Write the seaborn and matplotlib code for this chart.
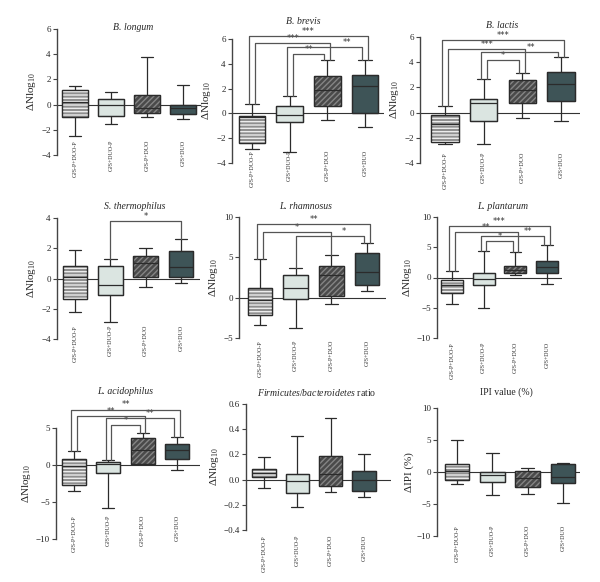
import numpy as np
import pandas as pd
import matplotlib
matplotlib.use("Agg")
import matplotlib.pyplot as plt
import seaborn as sns
from matplotlib.patches import PathPatch

# ---------------- data ----------------
groups = ["GJS-P+DUO-P", "GJS+DUO-P", "GJS-P+DUO", "GJS+DUO"]
titles = ["B. longum", "B. brevis", "B. lactis",
          "S. thermophilus", "L. rhamnosus", "L. plantarum",
          "L. acidophilus", "Firmicutes/bacteroidetes ratio", "IPI value (%)"]
ylabels = ["ΔNlog$_{\\mathregular{10}}$"] * 8 + ["ΔIPI (%)"]

# five-number summaries per group: [min, q1, median, q3, max]
longum = [[-2.46, -0.98, 0.2, 1.19, 1.45], [-1.56, -0.87, -0.05, 0.42, 1.0],
          [-0.98, -0.63, -0.3, 0.8, 3.78], [-1.16, -0.77, -0.3, -0.05, 1.53]]
brevis = [[-2.9, -2.39, -0.3, -0.19, 0.75], [-3.08, -0.72, -0.1, 0.56, 1.37],
          [-0.56, 0.62, 1.9, 3.03, 4.29], [-1.1, 0.0, 2.23, 3.11, 4.34]]
lactis = [[-2.51, -2.33, -0.9, -0.19, 0.55], [-2.51, -0.69, 0.77, 1.06, 2.67],
          [-0.42, 0.74, 1.8, 2.62, 3.15], [-0.69, 0.9, 2.28, 3.2, 4.42]]
thermo = [[-2.19, -1.35, 0.07, 0.8, 1.9], [-2.87, -1.06, -0.44, 0.8, 1.26],
          [-0.55, 0.13, 1.02, 1.5, 1.99], [-0.27, 0.09, 0.77, 1.83, 2.63]]
rhamno = [[-3.39, -2.15, -0.3, 1.16, 4.8], [-3.76, -0.2, 1.16, 2.85, 3.72],
          [-0.79, 0.17, 2.81, 3.88, 5.33], [0.79, 1.57, 3.22, 5.54, 6.78]]
planta = [[-4.35, -2.63, -1.25, -0.42, 1.02], [-5.12, -1.3, -0.3, 0.69, 4.35],
          [0.47, 0.69, 1.25, 1.91, 4.18], [-1.08, 0.69, 1.8, 2.8, 5.29]]
acidop = [[-3.49, -2.68, -0.1, 0.85, 1.84], [-5.84, -1.1, 0.12, 0.44, 0.66],
          [0.1, 0.12, 2.0, 3.65, 4.28], [-0.74, 0.85, 1.97, 2.83, 3.78]]
firmic = [[-0.066, 0.022, 0.05, 0.083, 0.18], [-0.217, -0.108, -0.008, 0.043, 0.35],
          [-0.1, -0.05, 0.043, 0.19, 0.49], [-0.135, -0.088, 0.0, 0.067, 0.2]]
ipi = [[-1.93, -1.2, 0.1, 1.2, 5.0], [-3.65, -1.5, -0.42, 0.0, 2.97],
       [-3.49, -2.34, -1.0, 0.16, 0.68], [-4.9, -1.72, -0.8, 1.25, 1.4]]
panels = [longum, brevis, lactis, thermo, rhamno, planta, acidop, firmic, ipi]

yticks = [[-4, -2, 0, 2, 4, 6]] * 3 + [[-4, -2, 0, 2, 4], [-5, 0, 5, 10],
          [-10, -5, 0, 5, 10], [-10, -5, 0, 5], [-0.4, -0.2, 0.0, 0.2, 0.4, 0.6],
          [-10, -5, 0, 5, 10]]

# significance brackets: (group i, group j, level, label, label x or None)
sig = [
    [],
    [(0, 3, 6.25, "***", None), (0, 2, 5.7, "***", None), (1, 3, 5.36, "**", 2.52), (1, 2, 4.77, "**", None)],
    [(0, 3, 5.76, "***", None), (0, 2, 5.08, "***", None), (1, 3, 4.79, "**", 2.22), (1, 2, 4.15, "*", None)],
    [(1, 3, 3.78, "*", None)],
    [(0, 3, 9.13, "**", None), (0, 2, 8.1, "*", None), (1, 3, 7.6, "*", 2.35)],
    [(0, 3, 8.5, "***", None), (0, 2, 7.5, "**", None), (1, 3, 6.9, "**", 2.4), (1, 2, 5.96, "*", None)],
    [(0, 3, 7.5, "**", None), (0, 2, 6.6, "**", None), (1, 3, 6.3, "**", 2.21), (1, 2, 5.34, "*", None)],
    [],
    [],
]

# ---------------- style / layout ----------------
face = ["#8e8e8e", "#dbe5e1", "#4a4a4a", "#3e5457"]
hatches = ["-----", None, "//////", None]
hatch_cols = ["#ececec", None, "#858585", None]
edge = "#2b2b2b"

W, H = 600, 582
# (left, top, right, bottom) in px, first/last box centre px
rects = [(57, 29, 201, 155), (232, 39, 384, 163), (420, 37, 580, 163),
         (57, 218, 200, 339), (239, 217, 386, 338), (437, 217, 562, 338),
         (56, 428, 200, 539), (246, 404, 391, 530), (437, 408, 580, 536)]
centres = [(75, 183), (252, 365), (445, 561), (75, 181), (260, 367), (452, 547),
           (74, 177), (264, 364), (457, 563)]
xpads = [-15, -13, -11, -14, 2, 4, -24, 5, -11]
title_pos = [(133, 27), (303, 22), (502, 26), (135, 206), (306, 206), (503, 206),
             (125, 392), (317, 392), (506, 392)]

sns.set_theme(style="white")
plt.rcParams["font.family"] = ["Liberation Serif", "DejaVu Serif"]
plt.rcParams["mathtext.fontset"] = "custom"
plt.rcParams["mathtext.rm"] = "Liberation Serif"
plt.rcParams["mathtext.it"] = "Liberation Serif:italic"
plt.rcParams["hatch.linewidth"] = 1.0

fig = plt.figure(figsize=(W / 100, H / 100), dpi=100)

for p, data in enumerate(panels):
    l, t, r, b = rects[p]
    ax = fig.add_axes([l / W, 1 - b / H, (r - l) / W, (b - t) / H])
    rows = [(g, v) for g, vals in zip(groups, data) for v in vals]
    df = pd.DataFrame(rows, columns=["group", "value"])
    sns.boxplot(data=df, x="group", y="value", hue="group", order=groups,
                hue_order=groups, palette=face, saturation=1, legend=False,
                whis=(0, 100), width=0.7, linecolor=edge, linewidth=0.9,
                ax=ax)
    boxes = [pt for pt in ax.patches][:4]
    for k, pt in enumerate(boxes):
        pt.set_facecolor(face[k])
        z = pt.get_zorder()
        if hatches[k]:
            hp = PathPatch(pt.get_path(), transform=pt.get_transform(),
                           facecolor="none", edgecolor=hatch_cols[k], lw=0,
                           hatch=hatches[k], zorder=z + 0.01)
            ax.add_patch(hp)
        op = PathPatch(pt.get_path(), transform=pt.get_transform(),
                       facecolor="none", edgecolor=edge, lw=0.9, zorder=z + 0.02)
        ax.add_patch(op)
    for ln in list(ax.lines):
        ln.set_zorder(3)

    x0, x3 = centres[p]
    u = (x3 - x0) / 3
    ax.set_xlim((l - x0) / u, (r - x0) / u)
    yt = yticks[p]
    ax.set_ylim(yt[0], yt[-1])
    ax.set_yticks(yt)
    ax.axhline(0, color="#333333", lw=0.8, zorder=1.5)

    for s in ["top", "right", "bottom"]:
        ax.spines[s].set_visible(False)
    ax.spines["left"].set_color("#444444")
    ax.spines["left"].set_linewidth(1.0)
    ax.tick_params(axis="y", which="major", direction="out", length=3, width=0.8,
                   color="#444444", labelsize=6.5, pad=1.5, left=True)
    ax.tick_params(axis="x", length=0, labelsize=4.3, pad=xpads[p] * 0.72,
                   labelrotation=90, labelcolor="#333333")
    for lab in ax.get_xticklabels():
        lab.set_va("top")
    ax.set_xlabel("")
    ax.set_ylabel(ylabels[p], fontsize=8, labelpad=2)

    # title
    tx, ty = title_pos[p]
    ttl = titles[p]
    if p == 7:
        fig.text(tx / W, 1 - ty / H, r"$\mathit{Firmicutes/bacteroidetes}$ ratio",
                 ha="center", va="center", fontsize=7)
    elif p == 8:
        fig.text(tx / W, 1 - ty / H, ttl, ha="center", va="center", fontsize=7)
    else:
        fig.text(tx / W, 1 - ty / H, ttl, ha="center", va="center", fontsize=7,
                 fontstyle="italic")

    # significance brackets
    specs = sig[p]
    tops = [g[-1] for g in data]
    d = 0.08
    offs = {}
    for k, (i, j, lev, lab, lx) in enumerate(specs):
        for box, side in ((i, -1), (j, 1)):
            same = [(abs(jj - ii), kk) for kk, (ii, jj, *_r) in enumerate(specs)
                    if (ii == box and side == -1) or (jj == box and side == 1)]
            if len(same) <= 1:
                offs[(k, box)] = 0.0
            else:
                span = abs(j - i)
                outer = span == max(s for s, _ in same)
                offs[(k, box)] = side * d if outer else -side * d
    for k, (i, j, lev, lab, lx) in enumerate(specs):
        xi = i + offs[(k, i)]
        xj = j + offs[(k, j)]
        ax.plot([xi, xi, xj, xj], [tops[i], lev, lev, tops[j]], color="#555555",
                lw=0.9, clip_on=False, zorder=4)
        xm = (xi + xj) / 2 if lx is None else lx
        ax.annotate(lab, (xm, lev), xytext=(0, 0.0), textcoords="offset points",
                    ha="center", va="bottom", fontsize=6, color="#333333",
                    family="DejaVu Sans", annotation_clip=False)

fig.savefig("out.png", dpi=100)
